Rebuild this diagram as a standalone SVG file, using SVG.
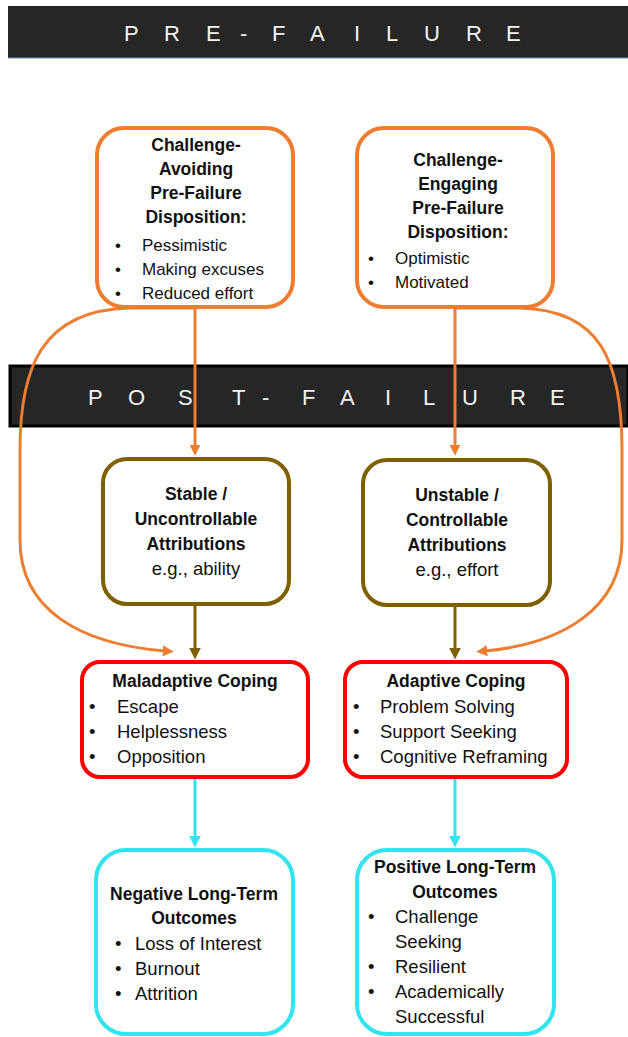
<svg xmlns="http://www.w3.org/2000/svg" width="628" height="1037" viewBox="0 0 628 1037">
<style>
.ban{fill:#262626}
.bt{font-family:"Liberation Sans",Arial,sans-serif;font-size:22px;fill:#f2f2f2}
.t{font-family:"Liberation Sans",Arial,sans-serif;fill:#111}
.b{font-weight:bold;font-size:17.5px;text-anchor:middle}
.r{font-size:18.5px}
.s{font-size:17px}
.c{text-anchor:middle}
.box{fill:#fff;stroke-width:4}
.or{stroke:#ED7D31}
.br{stroke:#7F6000}
.rd{stroke:#FF0000}
.cy{stroke:#33E3EE}
.cn{fill:none;stroke-width:3}
</style>
<defs>
<marker id="ao" viewBox="0 0 10 10" refX="2" refY="5" markerWidth="11" markerHeight="11" markerUnits="userSpaceOnUse" orient="auto"><path d="M0,0 L10,5 L0,10 z" fill="#ED7D31"/></marker>
<marker id="ab" viewBox="0 0 10 10" refX="2" refY="5" markerWidth="12" markerHeight="12" markerUnits="userSpaceOnUse" orient="auto"><path d="M0,0 L10,5 L0,10 z" fill="#7F6000"/></marker>
<marker id="ac" viewBox="0 0 10 10" refX="2" refY="5" markerWidth="12" markerHeight="12" markerUnits="userSpaceOnUse" orient="auto"><path d="M0,0 L10,5 L0,10 z" fill="#33E3EE"/></marker>
</defs>
<rect width="628" height="1037" fill="#fff"/>
<g id="banner-pre">
<rect class="ban" x="8" y="6" width="620" height="52"/>
<line x1="8" y1="58" x2="628" y2="58" stroke="#6f8fc0" stroke-width="1"/>
<text class="bt" y="41" x="124 164 206 240 272 310 354 386 424 466 506">PRE-FAILURE</text>
</g>
<g id="banner-post">
<rect class="ban" x="10" y="366" width="618" height="60" stroke="#000" stroke-width="3"/>
<text class="bt" y="405" x="88 128 178 232 262 302 340 385 423 462 510 550">POST-FAILURE</text>
</g>
<g id="connectors">
<path class="cn or" d="M195 308 V447" marker-end="url(#ao)"/>
<path class="cn or" d="M455 308 V447" marker-end="url(#ao)"/>
<path class="cn or" d="M195 308 L130 308 C40 310 20 370 20 450 L20 540 C20 610 80 644 165 651" marker-end="url(#ao)"/>
<path class="cn or" d="M455 308 L520 308 C600 310 622 360 622 450 L622 540 C622 610 560 644 485 651" marker-end="url(#ao)"/>
<path class="cn br" d="M195 603 V650" marker-end="url(#ab)"/>
<path class="cn br" d="M455 605 V650" marker-end="url(#ab)"/>
<path class="cn cy" d="M195 777 V838" marker-end="url(#ac)"/>
<path class="cn cy" d="M455 777 V838" marker-end="url(#ac)"/>
</g>
<g id="node-avoiding">
<rect class="box or" x="97" y="128" width="196" height="179" rx="27"/>
<text class="t b" x="196" y="151">Challenge-</text>
<text class="t b" x="196" y="175">Avoiding</text>
<text class="t b" x="196" y="199">Pre-Failure</text>
<text class="t b" x="196" y="223">Disposition:</text>
<text class="t s" x="115" y="251">•</text><text class="t s" x="142" y="251">Pessimistic</text>
<text class="t s" x="115" y="275">•</text><text class="t s" x="142" y="275">Making excuses</text>
<text class="t s" x="115" y="299">•</text><text class="t s" x="142" y="299">Reduced effort</text>
</g>
<g id="node-engaging">
<rect class="box or" x="357" y="128" width="196" height="179" rx="27"/>
<text class="t b" x="458" y="166">Challenge-</text>
<text class="t b" x="458" y="190">Engaging</text>
<text class="t b" x="458" y="214">Pre-Failure</text>
<text class="t b" x="458" y="238">Disposition:</text>
<text class="t s" x="368" y="264">•</text><text class="t s" x="395" y="264">Optimistic</text>
<text class="t s" x="368" y="288">•</text><text class="t s" x="395" y="288">Motivated</text>
</g>
<g id="node-stable">
<rect class="box br" x="103" y="459" width="186" height="145" rx="24"/>
<text class="t b" x="196" y="500">Stable /</text>
<text class="t b" x="196" y="525">Uncontrollable</text>
<text class="t b" x="196" y="550">Attributions</text>
<text class="t r c" x="196" y="575">e.g., ability</text>
</g>
<g id="node-unstable">
<rect class="box br" x="363" y="460" width="187" height="145" rx="24"/>
<text class="t b" x="457" y="501">Unstable /</text>
<text class="t b" x="457" y="526">Controllable</text>
<text class="t b" x="457" y="551">Attributions</text>
<text class="t r c" x="457" y="576">e.g., effort</text>
</g>
<g id="node-maladaptive">
<rect class="box rd" x="82" y="662" width="226" height="115" rx="18"/>
<text class="t b" x="195" y="687">Maladaptive Coping</text>
<text class="t r" x="89" y="713">•</text><text class="t r" x="117" y="713">Escape</text>
<text class="t r" x="89" y="738">•</text><text class="t r" x="117" y="738">Helplessness</text>
<text class="t r" x="89" y="763">•</text><text class="t r" x="117" y="763">Opposition</text>
</g>
<g id="node-adaptive">
<rect class="box rd" x="345" y="662" width="222" height="115" rx="18"/>
<text class="t b" x="456" y="687">Adaptive Coping</text>
<text class="t r" x="353" y="713">•</text><text class="t r" x="380" y="713">Problem Solving</text>
<text class="t r" x="353" y="738">•</text><text class="t r" x="380" y="738">Support Seeking</text>
<text class="t r" x="353" y="763">•</text><text class="t r" x="380" y="763">Cognitive Reframing</text>
</g>
<g id="node-negative">
<rect class="box cy" x="96" y="850" width="197" height="184" rx="30"/>
<text class="t b" x="194" y="900">Negative Long-Term</text>
<text class="t b" x="194" y="924">Outcomes</text>
<text class="t r" x="115" y="950">•</text><text class="t r" x="135" y="950">Loss of Interest</text>
<text class="t r" x="115" y="975">•</text><text class="t r" x="135" y="975">Burnout</text>
<text class="t r" x="115" y="1000">•</text><text class="t r" x="135" y="1000">Attrition</text>
</g>
<g id="node-positive">
<rect class="box cy" x="357" y="850" width="197" height="184" rx="30"/>
<text class="t b" x="455" y="873">Positive Long-Term</text>
<text class="t b" x="455" y="898">Outcomes</text>
<text class="t r" x="368" y="923">•</text><text class="t r" x="395" y="923">Challenge</text>
<text class="t r" x="395" y="948">Seeking</text>
<text class="t r" x="368" y="973">•</text><text class="t r" x="395" y="973">Resilient</text>
<text class="t r" x="368" y="998">•</text><text class="t r" x="395" y="998">Academically</text>
<text class="t r" x="395" y="1023">Successful</text>
</g>
</svg>
